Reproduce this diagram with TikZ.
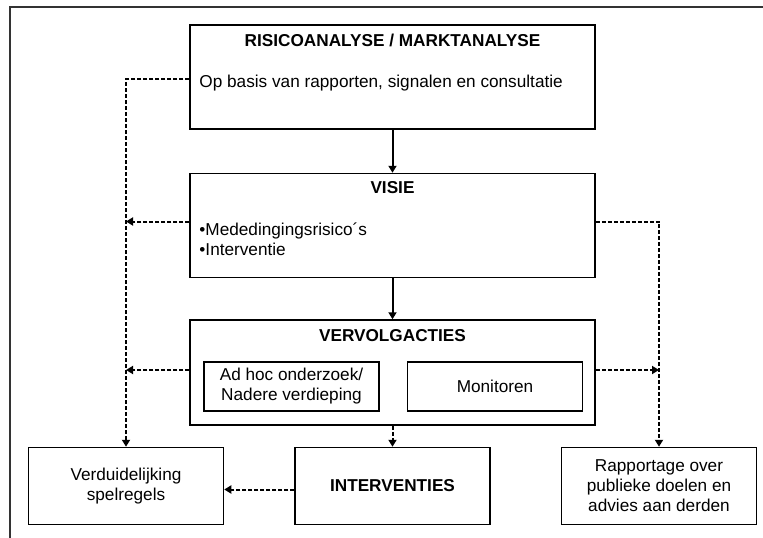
\documentclass[tikz,border=0pt]{standalone}
\usepackage{fontspec}
\setmainfont{Liberation Sans}
\usetikzlibrary{positioning,arrows.meta}

\begin{document}
\begin{tikzpicture}[
		x=1pt, y=-1pt,
		font=\fontsize{17.2}{20}\selectfont,
		>={Triangle[length=7pt,width=8pt]},
		blok/.style={draw, line width=1.5pt, inner sep=2pt, align=center},
		grootblok/.style={blok, minimum width=405pt, minimum height=104pt},
		kleinblok/.style={blok, minimum width=175pt, minimum height=49pt},
		eindblok/.style={blok, minimum width=195pt, minimum height=77pt},
		titel/.style={font=\fontsize{17.2}{20}\selectfont\bfseries, inner sep=0pt, anchor=base},
		tekst/.style={inner sep=0pt, anchor=north west, align=left},
		pijl/.style={->, line width=2pt},
		stippel/.style={->, line width=2pt, dash pattern=on 4pt off 2pt},
		kader/.style={line width=2.2pt, black!80},
	]
	\useasboundingbox (0,0) rectangle (763,538);
	\draw[kader] (10,538) |- (763,7);

	\node[grootblok] (risico) at (392.5,77) {};
	\node[grootblok, below=43pt of risico] (visie) {};
	\node[grootblok, minimum height=105pt, below=41pt of visie] (vervolg) {};
	\node[eindblok, below=21pt of vervolg] (interventies) {\bfseries INTERVENTIES};
	\node[eindblok, left=70pt of interventies] (verduidelijking) {Verduidelijking\\spelregels};
	\node[eindblok, right=70pt of interventies] (rapportage) {Rapportage over\\publieke doelen en\\advies aan derden};
	\node[kleinblok, anchor=north west] (adhoc) at ([xshift=14pt,yshift=-42pt]vervolg.north west) {Ad hoc onderzoek/\\Nadere verdieping};
	\node[kleinblok, right=27pt of adhoc] (monitoren) {Monitoren};

	% teksten in de grote blokken
	\node[titel] (risico-titel) at ([yshift=-22pt]risico.north) {RISICOANALYSE / MARKTANALYSE};
	\node[tekst, anchor=base west] (risico-tekst) at ([xshift=10pt,yshift=-63pt]risico.north west) {Op basis van rapporten, signalen en consultatie};
	\node[titel] (visie-titel) at ([yshift=-21pt]visie.north) {VISIE};
	\node[tekst] (visie-tekst) at ([xshift=10pt,yshift=-50pt]visie.north west) {•Mededingingsrisico´s\\•Interventie};
	\node[titel] (vervolg-titel) at ([yshift=-22pt]vervolg.north) {VERVOLGACTIES};

	\coordinate (risico-uit) at ([yshift=-55pt]risico.north west);
	\coordinate (visie-links) at ([yshift=4pt]visie.west);
	\coordinate (visie-rechts) at ([yshift=4pt]visie.east);
	\coordinate (vervolg-links) at ([yshift=2.5pt]vervolg.west);
	\coordinate (vervolg-rechts) at ([yshift=2.5pt]vervolg.east);
	\coordinate (interventies-uit) at ([yshift=-3.5pt]interventies.west);

	\draw[pijl] (risico) -- (visie);
	\draw[pijl] (visie) -- (vervolg);
	\draw[stippel] (risico-uit) -| (verduidelijking);
	\draw[stippel] (visie-links) -- (visie-links -| verduidelijking);
	\draw[stippel] (vervolg-links) -- (vervolg-links -| verduidelijking);
	\draw[stippel] (visie-rechts) -| (rapportage);
	\draw[stippel] (vervolg-rechts) -- (vervolg-rechts -| rapportage);
	\draw[stippel] (vervolg) -- (interventies);
	\draw[stippel] (interventies-uit) -- (interventies-uit -| verduidelijking.east);
\end{tikzpicture}
\end{document}
